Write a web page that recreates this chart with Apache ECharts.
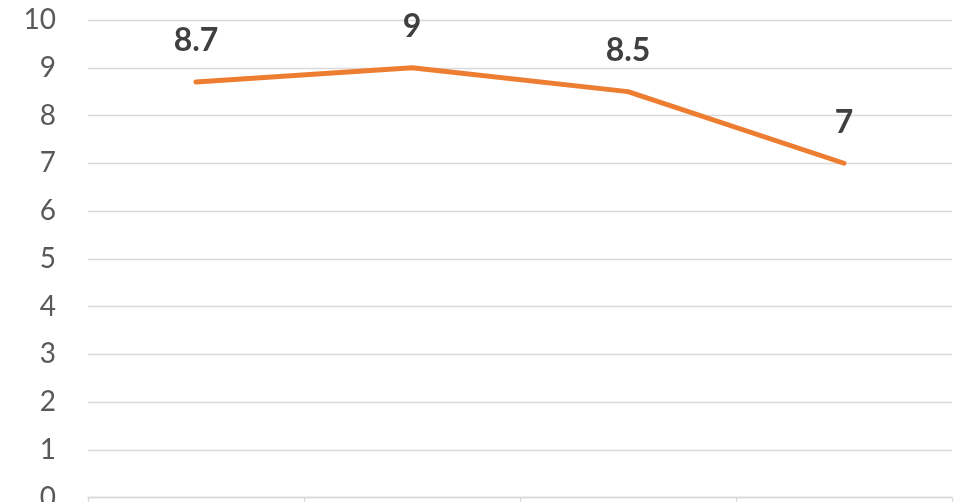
<!DOCTYPE html>
<html>
<head>
<meta charset="utf-8">
<script src="https://cdn.jsdelivr.net/npm/echarts@6/dist/echarts.min.js"></script>
<style>
html,body{margin:0;padding:0;background:#fff;}
#chart{width:958px;height:502px;}
</style>
</head>
<body>
<div id="chart"></div>
<script>
var categories = ["1", "2", "3", "4"];
var values = [8.7, 9, 8.5, 7];
var yMin = 0, yMax = 10, yInterval = 1;

var chart = echarts.init(document.getElementById('chart'));
chart.setOption({
  animation: false,
  backgroundColor: '#ffffff',
  grid: { left: 88, right: 6, top: 20, bottom: 4.5, containLabel: false, outerBoundsMode: 'none' },
  xAxis: {
    type: 'category',
    data: categories,
    boundaryGap: true,
    axisLine: { show: true, lineStyle: { color: '#d9d9d9', width: 1.3 } },
    axisTick: { show: true, length: 8, lineStyle: { color: '#d9d9d9', width: 1.3 } },
    axisLabel: { show: false },
    splitLine: { show: false }
  },
  yAxis: {
    type: 'value',
    min: yMin, max: yMax, interval: yInterval,
    axisLine: { show: false },
    axisTick: { show: false },
    axisLabel: { color: '#595959', fontSize: 28, fontFamily: 'Lato', margin: 32 },
    splitLine: { lineStyle: { color: '#d9d9d9', width: 1.3 } }
  },
  series: [{
    type: 'line',
    data: values,
    showSymbol: true,
    symbol: 'circle',
    symbolSize: 2,
    itemStyle: { color: '#ED7D31', borderWidth: 0 },
    lineStyle: { color: '#ED7D31', width: 5, cap: 'round', join: 'round' },
    label: {
      show: true,
      position: 'top',
      distance: 24,
      color: '#404040',
      fontSize: 32,
      fontWeight: 'bold',
      fontFamily: 'Lato',
      lineHeight: 32
    }
  }]
});
</script>
</body>
</html>
